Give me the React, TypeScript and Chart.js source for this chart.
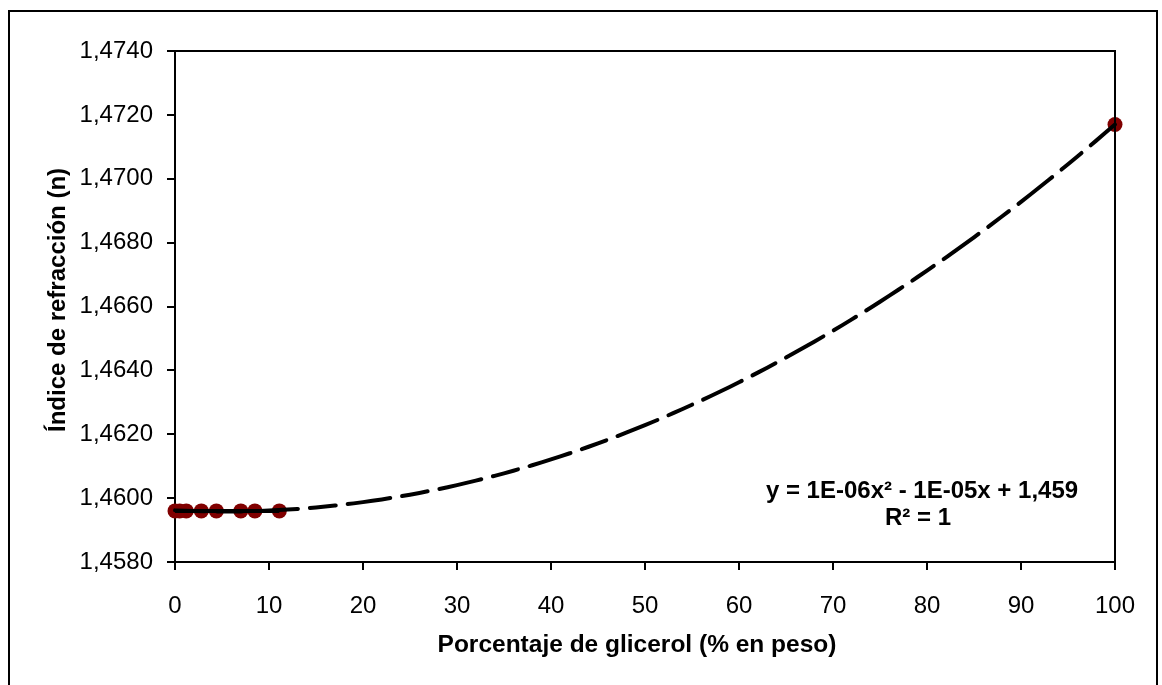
import React, { useEffect, useRef } from "react";
import { Chart, registerables } from "chart.js";

Chart.register(...registerables);

// Measured samples: glycerol weight percent vs refractive index
const pctGlicerol = [0, 0.5, 1.2, 2.8, 4.4, 7.0, 8.5, 11.1, 100];
const indiceRefraccion = [1.4596, 1.4596, 1.4596, 1.4596, 1.4596, 1.4596, 1.4596, 1.4596, 1.4717];

// Low-concentration samples joined by a solid line
const nConectados = 8;

// Axis ranges and tick spacing
const xMin = 0;
const xMax = 100;
const xStep = 10;
const yMin = 1.458;
const yMax = 1.474;
const yStep = 0.002;

const ecuacion = "y = 1E-06x\u00B2 - 1E-05x + 1,459";
const r2Texto = "R\u00B2 = 1";
const tituloX = "Porcentaje de glicerol (% en peso)";
const tituloY = "\u00CDndice de refracci\u00F3n (n)";

const FONT = "'Liberation Sans', Arial, Helvetica, sans-serif";

// Least-squares quadratic fit y = a x^2 + b x + c
function ajusteCuadratico(xs: number[], ys: number[]) {
  let s0 = 0, s1 = 0, s2 = 0, s3 = 0, s4 = 0, t0 = 0, t1 = 0, t2 = 0;
  for (let i = 0; i < xs.length; i++) {
    const x = xs[i];
    const y = ys[i];
    s0 += 1; s1 += x; s2 += x * x; s3 += x * x * x; s4 += x * x * x * x;
    t0 += y; t1 += x * y; t2 += x * x * y;
  }
  const M = [
    [s4, s3, s2, t2],
    [s3, s2, s1, t1],
    [s2, s1, s0, t0],
  ];
  for (let i = 0; i < 3; i++) {
    let p = i;
    for (let r = i + 1; r < 3; r++) if (Math.abs(M[r][i]) > Math.abs(M[p][i])) p = r;
    [M[i], M[p]] = [M[p], M[i]];
    for (let r = 0; r < 3; r++) {
      if (r === i) continue;
      const f = M[r][i] / M[i][i];
      for (let k = i; k < 4; k++) M[r][k] -= f * M[i][k];
    }
  }
  return { a: M[0][3] / M[0][0], b: M[1][3] / M[1][1], c: M[2][3] / M[2][2] };
}

const coef = ajusteCuadratico(pctGlicerol, indiceRefraccion);
const tendencia: { x: number; y: number }[] = [];
for (let x = xMin; x <= xMax; x += 1) {
  tendencia.push({ x, y: coef.a * x * x + coef.b * x + coef.c });
}

const marcoPlugin = {
  id: "marco",
  afterDraw(chart: any) {
    const { ctx, chartArea } = chart;
    const { left, right, top, bottom } = chartArea;
    ctx.save();
    ctx.strokeStyle = "#000";
    ctx.lineWidth = 2;
    // outer frame (open at the bottom edge of the page)
    ctx.beginPath();
    ctx.moveTo(9, 690);
    ctx.lineTo(9, 11);
    ctx.lineTo(1157, 11);
    ctx.lineTo(1157, 690);
    ctx.stroke();
    // plot-area box: top and right sides
    ctx.beginPath();
    ctx.moveTo(Math.round(left), Math.round(top));
    ctx.lineTo(Math.round(right), Math.round(top));
    ctx.lineTo(Math.round(right), Math.round(bottom));
    ctx.stroke();

    ctx.fillStyle = "#000";
    ctx.textAlign = "center";
    ctx.textBaseline = "alphabetic";
    // regression equation
    ctx.font = `bold 24px ${FONT}`;
    ctx.fillText(ecuacion, 922, 498);
    ctx.fillText(r2Texto, 918, 525);
    // x axis title
    ctx.font = `bold 24.5px ${FONT}`;
    ctx.fillText(tituloX, 637, 652);
    // y axis title
    ctx.font = `bold 24px ${FONT}`;
    ctx.translate(65, 300);
    ctx.rotate(-Math.PI / 2);
    ctx.fillText(tituloY, 0, 0);
    ctx.restore();
  },
};

export default function App() {
  const ref = useRef<HTMLCanvasElement | null>(null);

  useEffect(() => {
    if (!ref.current) return;
    const puntos = pctGlicerol.map((x, i) => ({ x, y: indiceRefraccion[i] }));
    const chart = new Chart(ref.current, {
      type: "scatter",
      data: {
        datasets: [
          {
            label: "Polinómica",
            data: tendencia,
            showLine: true,
            borderColor: "#000",
            borderWidth: 4,
            borderDash: [43, 12, 26, 12],
            borderDashOffset: 13,
            borderCapStyle: "round",
            pointRadius: 0,
            tension: 0,
            clip: false,
          },
          {
            label: "Unión",
            data: puntos.slice(0, nConectados),
            showLine: true,
            borderColor: "#000",
            borderWidth: 4,
            pointRadius: 0,
            tension: 0,
            clip: false,
          },
          {
            label: "Índice de refracción",
            data: puntos,
            showLine: false,
            pointRadius: 7.5,
            pointBackgroundColor: "#800000",
            pointBorderColor: "#800000",
            pointBorderWidth: 0,
            clip: false,
          },
        ],
      },
      options: {
        responsive: false,
        animation: false,
        layout: { padding: { top: 51, right: 47, left: 0, bottom: 0 } },
        plugins: {
          legend: { display: false },
          tooltip: { enabled: false },
          title: { display: false },
        },
        scales: {
          x: {
            type: "linear",
            min: xMin,
            max: xMax,
            afterFit: (s: any) => { s.height = 123; },
            ticks: {
              stepSize: xStep,
              color: "#000",
              padding: 22,
              font: { family: FONT, size: 24 },
              maxRotation: 0,
            },
            grid: {
              drawOnChartArea: false,
              drawTicks: true,
              tickLength: 8,
              color: "#000",
              lineWidth: 2,
            },
            border: { display: true, color: "#000", width: 2 },
          },
          y: {
            type: "linear",
            min: yMin,
            max: yMax,
            afterFit: (s: any) => { s.width = 175; },
            ticks: {
              stepSize: yStep,
              color: "#000",
              padding: 14,
              font: { family: FONT, size: 24 },
              callback: (v: any) => Number(v).toFixed(4).replace(".", ","),
            },
            grid: {
              drawOnChartArea: false,
              drawTicks: true,
              tickLength: 8,
              color: "#000",
              lineWidth: 2,
            },
            border: { display: true, color: "#000", width: 2 },
          },
        },
      },
      plugins: [marcoPlugin],
    } as any);
    return () => chart.destroy();
  }, []);

  return (
    <canvas
      ref={ref}
      width={1162}
      height={685}
      style={{ position: "absolute", left: 0, top: 0, display: "block", background: "#fff" }}
    />
  );
}
